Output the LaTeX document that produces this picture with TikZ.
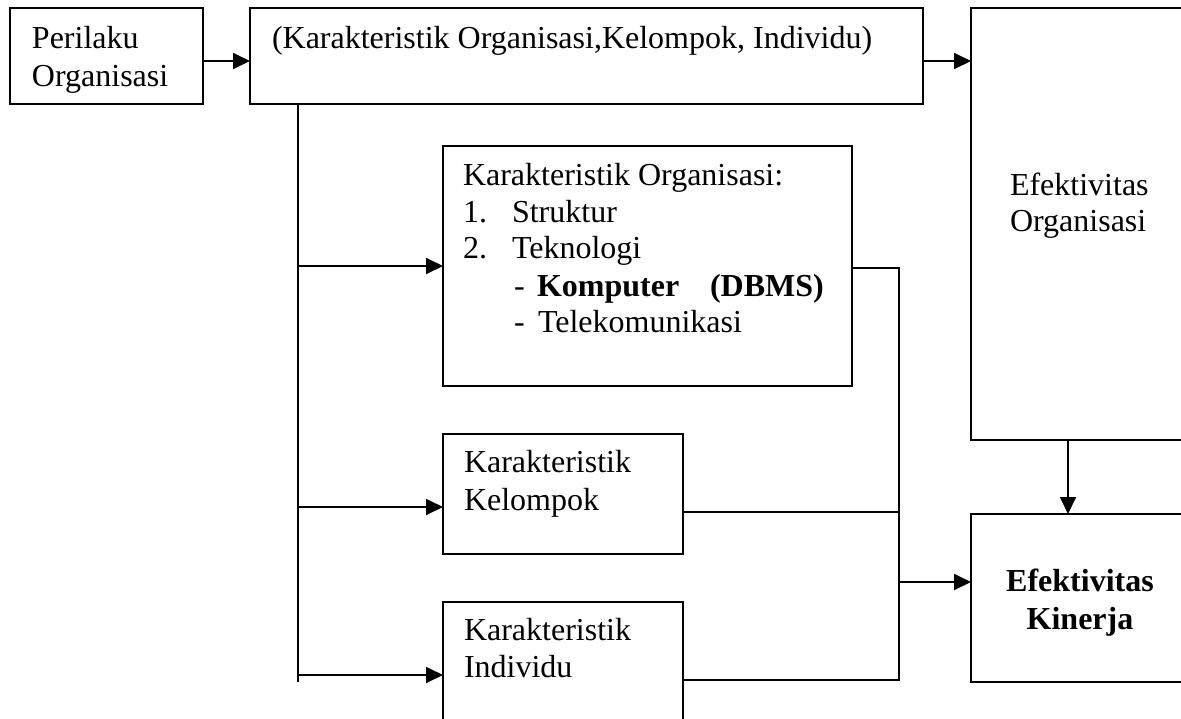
\documentclass[tikz,border=0pt]{standalone}
\usepackage{fontspec}
\setmainfont{Liberation Serif}
\usetikzlibrary{arrows.meta}
\tikzset{
  box/.style={draw=black, line width=1.2pt, fill=none, inner sep=0pt, outer sep=0pt, anchor=north west},
  txt/.style={inner sep=0pt, outer sep=0pt, anchor=base west, font=\fontsize{16}{19}\selectfont},
  ctxt/.style={txt, anchor=base, font=\fontsize{16}{19}\selectfont\bfseries},
  conn/.style={draw=black, line width=0.9pt},
  arr/.style={conn, -{Triangle[length=8.5pt,width=8pt]}},
}
\begin{document}
\begin{tikzpicture}[x=0.5pt,y=-0.5pt]
\useasboundingbox (0,0) rectangle (1181,718);
\clip (0,0) rectangle (1181,718);
\fill[white] (0,0) rectangle (1181,718);

% boxes
\node[box, minimum width=96.5pt, minimum height=48pt] (per) at (10,8) {};
\node[box, minimum width=336.5pt, minimum height=48pt] (top) at (250,8) {};
\node[box, minimum width=109pt, minimum height=216pt] (eorg) at (971,8) {};
\node[box, minimum width=204.5pt, minimum height=120pt] (korg) at (443,146) {};
\node[box, minimum width=120pt, minimum height=60pt] (kkel) at (443,434) {};
\node[box, minimum width=120pt, minimum height=61pt] (kind) at (443,602) {};
\node[box, minimum width=109pt, minimum height=84pt] (ekin) at (971,514) {};

% texts
\node[txt] (perA) at (32,48) {Perilaku};
\node[txt] (perB) at (32,86) {Organisasi};
\node[txt] (topA) at (272,48) {(Karakteristik Organisasi,Kelompok, Individu)};
\node[txt] (eorgA) at (1010,195) {Efektivitas};
\node[txt] (eorgB) at (1010,231) {Organisasi};
\node[txt] (korgA) at (463,185) {Karakteristik Organisasi:};
\node[txt] (korgB1) at (463,222) {1.};
\node[txt] (korgB2) at (512,222) {Struktur};
\node[txt] (korgC1) at (463,258) {2.};
\node[txt] (korgC2) at (512,258) {Teknologi};
\node[txt] (korgD1) at (514,296) {-};
\node[txt, font=\fontsize{16}{19}\selectfont\bfseries] (korgD2) at (537,296) {Komputer};
\node[txt, font=\fontsize{16}{19}\selectfont\bfseries] (korgD3) at (710,296) {(DBMS)};
\node[txt] (korgE1) at (514,332) {-};
\node[txt] (korgE2) at (538,332) {Telekomunikasi};
\node[txt] (kkelA) at (464,472) {Karakteristik};
\node[txt] (kkelB) at (464,510) {Kelompok};
\node[txt] (kindA) at (464,640) {Karakteristik};
\node[txt] (kindB) at (464,677) {Individu};
\node[ctxt] (ekinA) at (1080,591) {Efektivitas};
\node[ctxt] (ekinB) at (1080,629) {Kinerja};

% helper coordinates
\coordinate (y1) at (0,61);
\coordinate (tx) at (298,682);
\coordinate (a1) at (298,266);
\coordinate (a2) at (298,507);
\coordinate (a3) at (298,675);
\coordinate (j1) at (899,268);
\coordinate (j2) at (899,512);
\coordinate (j3) at (899,680);
\coordinate (j4) at (899,582);
\coordinate (dx) at (1068,0);

% connectors
\draw[arr] (per.east |- y1) -- (top.west |- y1);
\draw[arr] (top.east |- y1) -- (eorg.west |- y1);
\draw[conn] (top.south -| tx) -- (tx);
\draw[arr] (a1) -- (korg.west |- a1);
\draw[arr] (a2) -- (kkel.west |- a2);
\draw[arr] (a3) -- (kind.west |- a3);
\draw[conn] (korg.east |- j1) -- (j1) -- (j3) -- (kind.east |- j3);
\draw[conn] (kkel.east |- j2) -- (j2);
\draw[arr] (j4) -- (ekin.west |- j4);
\draw[arr] (eorg.south -| dx) -- (ekin.north -| dx);
\end{tikzpicture}
\end{document}
